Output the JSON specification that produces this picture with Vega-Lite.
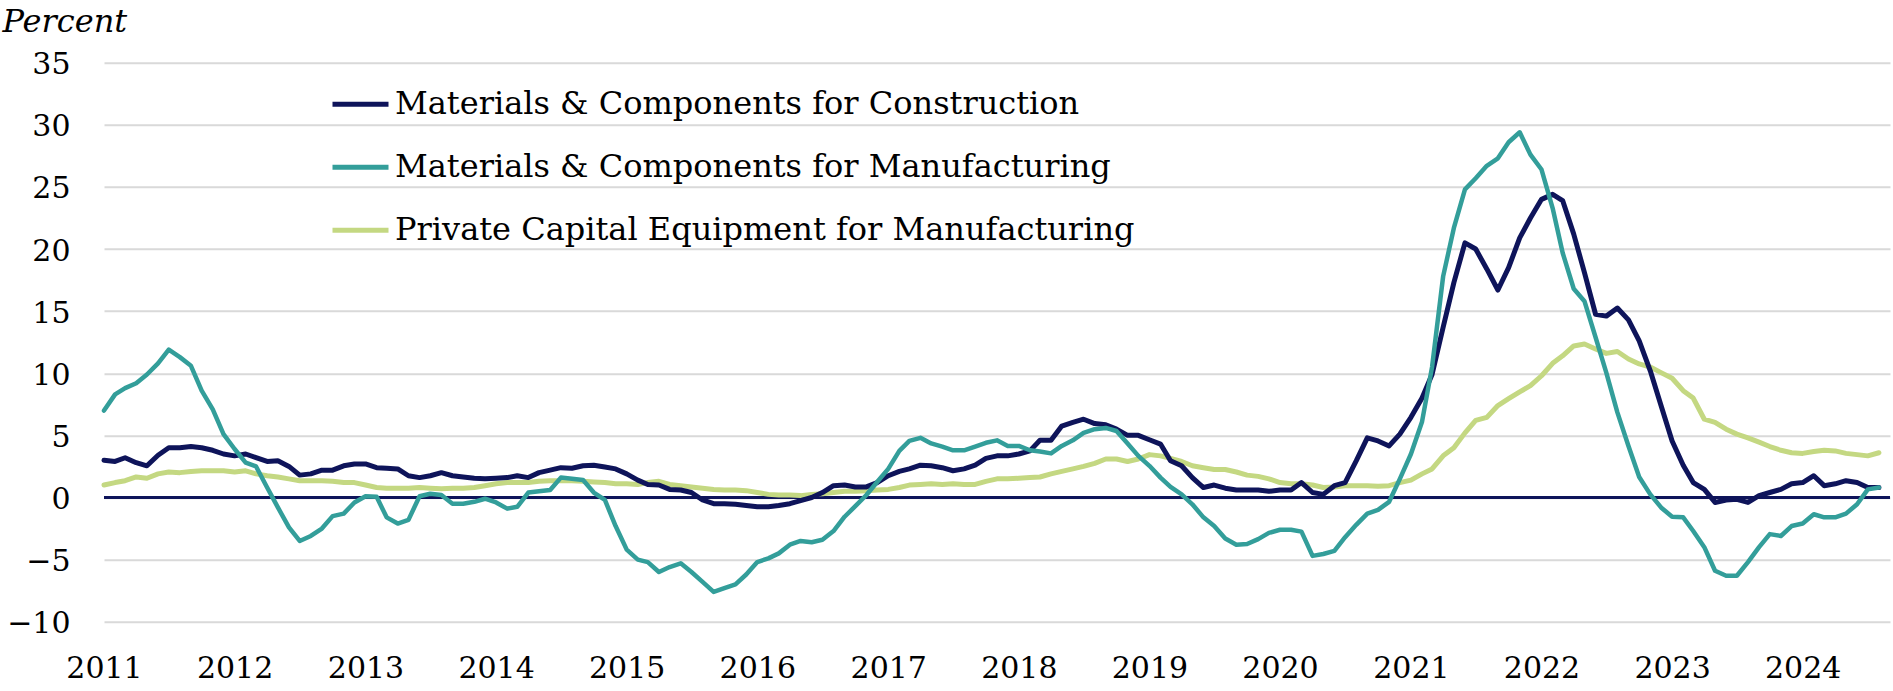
{
  "$schema": "https://vega.github.io/schema/vega-lite/v6.json",
  "width": 1786,
  "height": 559,
  "autosize": {"type": "none"},
  "padding": {"left": 104, "top": 62.7, "right": 3, "bottom": 69.3},
  "background": "white",
  "config": {
    "view": {"stroke": null},
    "font": "DejaVu Serif",
    "axis": {"labelColor": "#000000", "labelFont": "DejaVu Serif", "titleColor": "#000000"}
  },
  "data": {
    "values": [
      {"d":"2011-01-01","c":3.0,"m":7.0,"p":1.0},
      {"d":"2011-02-01","c":2.9,"m":8.3,"p":1.2},
      {"d":"2011-03-01","c":3.2,"m":8.8,"p":1.35},
      {"d":"2011-04-01","c":2.8,"m":9.2,"p":1.65},
      {"d":"2011-05-01","c":2.55,"m":9.9,"p":1.55},
      {"d":"2011-06-01","c":3.4,"m":10.8,"p":1.9},
      {"d":"2011-07-01","c":4.0,"m":11.9,"p":2.05},
      {"d":"2011-08-01","c":4.0,"m":11.3,"p":2.0},
      {"d":"2011-09-01","c":4.1,"m":10.6,"p":2.1},
      {"d":"2011-10-01","c":4.0,"m":8.6,"p":2.15},
      {"d":"2011-11-01","c":3.8,"m":7.1,"p":2.15},
      {"d":"2011-12-01","c":3.5,"m":5.1,"p":2.15},
      {"d":"2012-01-01","c":3.35,"m":3.9,"p":2.05},
      {"d":"2012-02-01","c":3.5,"m":2.8,"p":2.15},
      {"d":"2012-03-01","c":3.2,"m":2.5,"p":1.9},
      {"d":"2012-04-01","c":2.9,"m":0.8,"p":1.75},
      {"d":"2012-05-01","c":2.95,"m":-0.8,"p":1.65},
      {"d":"2012-06-01","c":2.5,"m":-2.4,"p":1.5},
      {"d":"2012-07-01","c":1.8,"m":-3.5,"p":1.35},
      {"d":"2012-08-01","c":1.9,"m":-3.1,"p":1.35},
      {"d":"2012-09-01","c":2.2,"m":-2.5,"p":1.35},
      {"d":"2012-10-01","c":2.2,"m":-1.5,"p":1.3},
      {"d":"2012-11-01","c":2.55,"m":-1.3,"p":1.2},
      {"d":"2012-12-01","c":2.7,"m":-0.4,"p":1.2},
      {"d":"2013-01-01","c":2.7,"m":0.1,"p":1.0},
      {"d":"2013-02-01","c":2.4,"m":0.05,"p":0.8},
      {"d":"2013-03-01","c":2.35,"m":-1.6,"p":0.75},
      {"d":"2013-04-01","c":2.3,"m":-2.1,"p":0.75},
      {"d":"2013-05-01","c":1.75,"m":-1.8,"p":0.75},
      {"d":"2013-06-01","c":1.6,"m":0.1,"p":0.8},
      {"d":"2013-07-01","c":1.75,"m":0.3,"p":0.75},
      {"d":"2013-08-01","c":2.0,"m":0.2,"p":0.7},
      {"d":"2013-09-01","c":1.75,"m":-0.5,"p":0.75},
      {"d":"2013-10-01","c":1.65,"m":-0.5,"p":0.75},
      {"d":"2013-11-01","c":1.55,"m":-0.35,"p":0.8},
      {"d":"2013-12-01","c":1.5,"m":-0.1,"p":0.95},
      {"d":"2014-01-01","c":1.55,"m":-0.4,"p":1.1},
      {"d":"2014-02-01","c":1.6,"m":-0.9,"p":1.2},
      {"d":"2014-03-01","c":1.75,"m":-0.75,"p":1.2},
      {"d":"2014-04-01","c":1.6,"m":0.4,"p":1.2},
      {"d":"2014-05-01","c":2.0,"m":0.5,"p":1.3},
      {"d":"2014-06-01","c":2.2,"m":0.6,"p":1.35},
      {"d":"2014-07-01","c":2.4,"m":1.6,"p":1.35},
      {"d":"2014-08-01","c":2.35,"m":1.5,"p":1.35},
      {"d":"2014-09-01","c":2.55,"m":1.4,"p":1.3},
      {"d":"2014-10-01","c":2.6,"m":0.4,"p":1.25},
      {"d":"2014-11-01","c":2.45,"m":-0.2,"p":1.2},
      {"d":"2014-12-01","c":2.3,"m":-2.3,"p":1.1},
      {"d":"2015-01-01","c":1.9,"m":-4.2,"p":1.1},
      {"d":"2015-02-01","c":1.4,"m":-5.0,"p":1.05},
      {"d":"2015-03-01","c":1.05,"m":-5.2,"p":1.2},
      {"d":"2015-04-01","c":1.0,"m":-6.0,"p":1.3},
      {"d":"2015-05-01","c":0.65,"m":-5.6,"p":1.05},
      {"d":"2015-06-01","c":0.6,"m":-5.3,"p":0.95},
      {"d":"2015-07-01","c":0.4,"m":-6.0,"p":0.85},
      {"d":"2015-08-01","c":-0.2,"m":-6.8,"p":0.75},
      {"d":"2015-09-01","c":-0.5,"m":-7.6,"p":0.65},
      {"d":"2015-10-01","c":-0.5,"m":-7.3,"p":0.6},
      {"d":"2015-11-01","c":-0.55,"m":-7.0,"p":0.6},
      {"d":"2015-12-01","c":-0.65,"m":-6.2,"p":0.55},
      {"d":"2016-01-01","c":-0.75,"m":-5.2,"p":0.4},
      {"d":"2016-02-01","c":-0.75,"m":-4.9,"p":0.25},
      {"d":"2016-03-01","c":-0.65,"m":-4.5,"p":0.2},
      {"d":"2016-04-01","c":-0.5,"m":-3.8,"p":0.2},
      {"d":"2016-05-01","c":-0.25,"m":-3.5,"p":0.15},
      {"d":"2016-06-01","c":0.0,"m":-3.6,"p":0.25},
      {"d":"2016-07-01","c":0.4,"m":-3.4,"p":0.3},
      {"d":"2016-08-01","c":0.95,"m":-2.7,"p":0.4},
      {"d":"2016-09-01","c":1.0,"m":-1.55,"p":0.5},
      {"d":"2016-10-01","c":0.85,"m":-0.7,"p":0.5},
      {"d":"2016-11-01","c":0.85,"m":0.2,"p":0.55},
      {"d":"2016-12-01","c":1.2,"m":1.25,"p":0.6},
      {"d":"2017-01-01","c":1.75,"m":2.3,"p":0.65},
      {"d":"2017-02-01","c":2.1,"m":3.75,"p":0.8},
      {"d":"2017-03-01","c":2.3,"m":4.55,"p":1.0},
      {"d":"2017-04-01","c":2.6,"m":4.8,"p":1.05},
      {"d":"2017-05-01","c":2.55,"m":4.35,"p":1.1},
      {"d":"2017-06-01","c":2.4,"m":4.1,"p":1.05},
      {"d":"2017-07-01","c":2.15,"m":3.8,"p":1.1},
      {"d":"2017-08-01","c":2.3,"m":3.8,"p":1.05},
      {"d":"2017-09-01","c":2.6,"m":4.1,"p":1.05},
      {"d":"2017-10-01","c":3.15,"m":4.4,"p":1.3},
      {"d":"2017-11-01","c":3.35,"m":4.6,"p":1.5},
      {"d":"2017-12-01","c":3.35,"m":4.15,"p":1.5},
      {"d":"2018-01-01","c":3.5,"m":4.15,"p":1.55},
      {"d":"2018-02-01","c":3.75,"m":3.8,"p":1.6},
      {"d":"2018-03-01","c":4.6,"m":3.7,"p":1.65},
      {"d":"2018-04-01","c":4.6,"m":3.55,"p":1.9},
      {"d":"2018-05-01","c":5.75,"m":4.15,"p":2.1},
      {"d":"2018-06-01","c":6.05,"m":4.6,"p":2.3},
      {"d":"2018-07-01","c":6.3,"m":5.2,"p":2.5},
      {"d":"2018-08-01","c":5.95,"m":5.5,"p":2.75},
      {"d":"2018-09-01","c":5.85,"m":5.6,"p":3.1},
      {"d":"2018-10-01","c":5.5,"m":5.35,"p":3.1},
      {"d":"2018-11-01","c":5.0,"m":4.35,"p":2.9},
      {"d":"2018-12-01","c":5.0,"m":3.35,"p":3.1},
      {"d":"2019-01-01","c":4.65,"m":2.55,"p":3.45},
      {"d":"2019-02-01","c":4.3,"m":1.6,"p":3.35},
      {"d":"2019-03-01","c":2.95,"m":0.85,"p":3.15},
      {"d":"2019-04-01","c":2.55,"m":0.25,"p":2.9},
      {"d":"2019-05-01","c":1.6,"m":-0.55,"p":2.55},
      {"d":"2019-06-01","c":0.8,"m":-1.6,"p":2.4},
      {"d":"2019-07-01","c":1.0,"m":-2.3,"p":2.25},
      {"d":"2019-08-01","c":0.75,"m":-3.3,"p":2.25},
      {"d":"2019-09-01","c":0.6,"m":-3.8,"p":2.05},
      {"d":"2019-10-01","c":0.6,"m":-3.75,"p":1.8},
      {"d":"2019-11-01","c":0.6,"m":-3.35,"p":1.7},
      {"d":"2019-12-01","c":0.5,"m":-2.85,"p":1.5},
      {"d":"2020-01-01","c":0.6,"m":-2.6,"p":1.2},
      {"d":"2020-02-01","c":0.6,"m":-2.6,"p":1.1},
      {"d":"2020-03-01","c":1.2,"m":-2.75,"p":1.1},
      {"d":"2020-04-01","c":0.4,"m":-4.7,"p":1.0},
      {"d":"2020-05-01","c":0.25,"m":-4.55,"p":0.8},
      {"d":"2020-06-01","c":0.95,"m":-4.3,"p":0.85},
      {"d":"2020-07-01","c":1.2,"m":-3.2,"p":0.95},
      {"d":"2020-08-01","c":2.95,"m":-2.2,"p":0.95},
      {"d":"2020-09-01","c":4.8,"m":-1.3,"p":0.95},
      {"d":"2020-10-01","c":4.55,"m":-1.0,"p":0.9},
      {"d":"2020-11-01","c":4.15,"m":-0.35,"p":0.95},
      {"d":"2020-12-01","c":5.1,"m":1.5,"p":1.2},
      {"d":"2021-01-01","c":6.45,"m":3.5,"p":1.4},
      {"d":"2021-02-01","c":8.0,"m":6.1,"p":1.9},
      {"d":"2021-03-01","c":9.9,"m":10.5,"p":2.3},
      {"d":"2021-04-01","c":13.7,"m":17.8,"p":3.35},
      {"d":"2021-05-01","c":17.3,"m":21.7,"p":4.0},
      {"d":"2021-06-01","c":20.5,"m":24.8,"p":5.2},
      {"d":"2021-07-01","c":20.0,"m":25.7,"p":6.2},
      {"d":"2021-08-01","c":18.4,"m":26.7,"p":6.45},
      {"d":"2021-09-01","c":16.7,"m":27.3,"p":7.4},
      {"d":"2021-10-01","c":18.5,"m":28.6,"p":7.95},
      {"d":"2021-11-01","c":20.9,"m":29.4,"p":8.5},
      {"d":"2021-12-01","c":22.5,"m":27.6,"p":9.0},
      {"d":"2022-01-01","c":24.0,"m":26.4,"p":9.8},
      {"d":"2022-02-01","c":24.4,"m":23.3,"p":10.8},
      {"d":"2022-03-01","c":23.9,"m":19.7,"p":11.4},
      {"d":"2022-04-01","c":21.2,"m":16.8,"p":12.2},
      {"d":"2022-05-01","c":18.1,"m":15.8,"p":12.35},
      {"d":"2022-06-01","c":14.75,"m":12.9,"p":11.95},
      {"d":"2022-07-01","c":14.6,"m":10.05,"p":11.6},
      {"d":"2022-08-01","c":15.25,"m":6.85,"p":11.75},
      {"d":"2022-09-01","c":14.3,"m":4.15,"p":11.15},
      {"d":"2022-10-01","c":12.6,"m":1.65,"p":10.75},
      {"d":"2022-11-01","c":10.2,"m":0.25,"p":10.5},
      {"d":"2022-12-01","c":7.4,"m":-0.8,"p":10.05},
      {"d":"2023-01-01","c":4.55,"m":-1.55,"p":9.6},
      {"d":"2023-02-01","c":2.6,"m":-1.6,"p":8.6},
      {"d":"2023-03-01","c":1.2,"m":-2.7,"p":8.0},
      {"d":"2023-04-01","c":0.65,"m":-4.0,"p":6.3},
      {"d":"2023-05-01","c":-0.4,"m":-5.9,"p":6.05},
      {"d":"2023-06-01","c":-0.2,"m":-6.3,"p":5.5},
      {"d":"2023-07-01","c":-0.15,"m":-6.3,"p":5.1},
      {"d":"2023-08-01","c":-0.4,"m":-5.2,"p":4.8},
      {"d":"2023-09-01","c":0.15,"m":-4.0,"p":4.45},
      {"d":"2023-10-01","c":0.4,"m":-2.95,"p":4.1},
      {"d":"2023-11-01","c":0.65,"m":-3.1,"p":3.8},
      {"d":"2023-12-01","c":1.1,"m":-2.3,"p":3.6},
      {"d":"2024-01-01","c":1.2,"m":-2.1,"p":3.55},
      {"d":"2024-02-01","c":1.75,"m":-1.35,"p":3.7},
      {"d":"2024-03-01","c":0.95,"m":-1.6,"p":3.8},
      {"d":"2024-04-01","c":1.1,"m":-1.6,"p":3.75},
      {"d":"2024-05-01","c":1.35,"m":-1.3,"p":3.55},
      {"d":"2024-06-01","c":1.2,"m":-0.55,"p":3.45},
      {"d":"2024-07-01","c":0.8,"m":0.65,"p":3.35},
      {"d":"2024-08-01","c":0.8,"m":0.8,"p":3.6}
    ]
  },
  "transform": [{"fold": ["c", "m", "p"], "as": ["s", "v"]}],
  "layer": [
    {
      "data": {"values": [{}]},
      "mark": {"type": "rule", "color": "#0e145a", "strokeWidth": 3},
      "encoding": {"y": {"datum": 0, "type": "quantitative"}}
    },
    {
      "transform": [{"filter": "datum.s == 'p'"}],
      "mark": {"type": "line", "strokeWidth": 5, "strokeCap": "round", "strokeJoin": "round"},
      "encoding": {
        "x": {
          "field": "d", "type": "temporal",
          "scale": {"type": "utc", "domain": [{"year": 2011, "month": 1, "date": 1, "utc": true}, {"year": 2024, "month": 9, "date": 1, "utc": true}]},
          "axis": {
            "title": null, "format": "%Y", "formatType": "utc",
            "values": [
              {"year": 2011, "month": 1, "date": 1, "utc": true},
              {"year": 2012, "month": 1, "date": 1, "utc": true},
              {"year": 2013, "month": 1, "date": 1, "utc": true},
              {"year": 2014, "month": 1, "date": 1, "utc": true},
              {"year": 2015, "month": 1, "date": 1, "utc": true},
              {"year": 2016, "month": 1, "date": 1, "utc": true},
              {"year": 2017, "month": 1, "date": 1, "utc": true},
              {"year": 2018, "month": 1, "date": 1, "utc": true},
              {"year": 2019, "month": 1, "date": 1, "utc": true},
              {"year": 2020, "month": 1, "date": 1, "utc": true},
              {"year": 2021, "month": 1, "date": 1, "utc": true},
              {"year": 2022, "month": 1, "date": 1, "utc": true},
              {"year": 2023, "month": 1, "date": 1, "utc": true},
              {"year": 2024, "month": 1, "date": 1, "utc": true}
            ],
            "grid": false, "domain": false, "ticks": false,
            "labelFontSize": 30, "labelPadding": 32, "labelFlush": false,
            "labelOverlap": false, "labelBound": false, "labelAngle": 0
          }
        },
        "y": {
          "field": "v", "type": "quantitative",
          "scale": {"domain": [-10, 35], "nice": false, "zero": false},
          "axis": {
            "values": [-10, -5, 0, 5, 10, 15, 20, 25, 30, 35],
            "grid": true, "gridColor": "#d9d9d9", "gridWidth": 2,
            "domain": false, "ticks": false,
            "labelFontSize": 30, "labelPadding": 34, "labelOffset": 2,
            "title": "Percent", "titleAngle": 0, "titleX": -102, "titleY": -31,
            "titleAlign": "left", "titleBaseline": "alphabetic",
            "titleFont": "DejaVu Serif", "titleFontStyle": "italic", "titleFontWeight": "normal",
            "titleFontSize": 32
          }
        },
        "color": {
          "field": "s", "type": "nominal",
          "scale": {"domain": ["c", "m", "p"], "range": ["#0e145a", "#339e9a", "#c4d882"]},
          "legend": {
            "orient": "none", "legendX": 226, "legendY": 11, "title": null,
            "symbolType": "stroke", "symbolStrokeWidth": 5, "symbolSize": 3136,
            "labelFontSize": 32, "labelFont": "DejaVu Serif", "labelColor": "#000000",
            "labelLimit": 1200, "labelOffset": 4, "rowPadding": 16, "padding": 0,
            "labelExpr": "datum.value == 'c' ? 'Materials & Components for Construction' : datum.value == 'm' ? 'Materials & Components for Manufacturing' : 'Private Capital Equipment for Manufacturing'"
          }
        }
      }
    },
    {
      "transform": [{"filter": "datum.s == 'c'"}],
      "mark": {"type": "line", "strokeWidth": 5, "strokeCap": "round", "strokeJoin": "round"},
      "encoding": {
        "x": {"field": "d", "type": "temporal"},
        "y": {"field": "v", "type": "quantitative"},
        "color": {"field": "s", "type": "nominal"}
      }
    },
    {
      "transform": [{"filter": "datum.s == 'm'"}],
      "mark": {"type": "line", "strokeWidth": 4.5, "strokeCap": "round", "strokeJoin": "round"},
      "encoding": {
        "x": {"field": "d", "type": "temporal"},
        "y": {"field": "v", "type": "quantitative"},
        "color": {"field": "s", "type": "nominal"}
      }
    }
  ]
}
